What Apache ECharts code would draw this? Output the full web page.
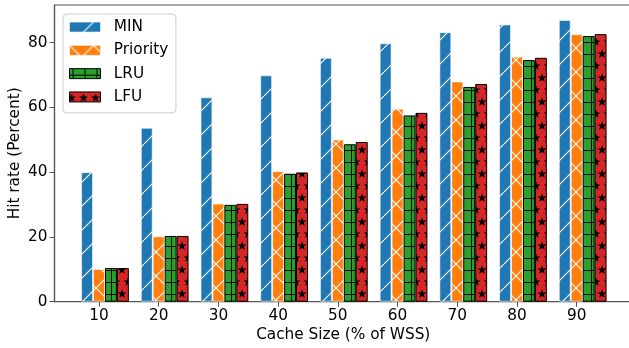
<!DOCTYPE html>
<html><head><meta charset="utf-8">
<script src="https://cdn.jsdelivr.net/npm/echarts@6/dist/echarts.min.js"></script>
<style>html,body{margin:0;padding:0;background:#fff}#c{width:629px;height:348px}</style>
</head><body><div id="c"></div>
<script>
const categories = ['10', '20', '30', '40', '50', '60', '70', '80', '90'];
const minValues = [40.0, 53.7, 63.1, 69.9, 75.3, 79.8, 83.2, 85.6, 87.0];
const priorityValues = [10.1, 20.2, 30.3, 40.3, 50.1, 59.6, 68.0, 75.7, 82.6];
const lruValues = [10.4, 20.3, 29.9, 39.5, 48.6, 57.5, 66.3, 74.6, 82.0];
const lfuValues = [10.4, 20.3, 30.2, 39.9, 49.3, 58.3, 67.2, 75.3, 82.6];
const yTicks = [0, 20, 40, 60, 80];
const seriesNames = ['MIN', 'Priority', 'LRU', 'LFU'];
const xAxisTitle = 'Cache Size (% of WSS)';
const yAxisTitle = 'Hit rate (Percent)';

const FONT = 'DejaVu Sans';
const FS = 15.3;
const SPINE = '#555555';

function tile(w, h, bg, draw) {
  const c = document.createElement('canvas');
  c.width = w; c.height = h;
  const g = c.getContext('2d');
  g.fillStyle = bg; g.fillRect(0, 0, w, h);
  draw(g);
  return c;
}
function diag(g, dir) {
  for (const o of [-24, 0, 24]) {
    g.beginPath();
    if (dir > 0) { g.moveTo(o, 24); g.lineTo(o + 24, 0); }
    else { g.moveTo(o, 0); g.lineTo(o + 24, 24); }
    g.stroke();
  }
}
function star(g, cx, cy, ro, ri) {
  g.beginPath();
  for (let k = 0; k < 10; k++) {
    const r = k % 2 ? ri : ro;
    const a = -Math.PI / 2 + k * Math.PI / 5;
    const x = cx + r * Math.cos(a), y = cy + r * Math.sin(a);
    if (k) g.lineTo(x, y); else g.moveTo(x, y);
  }
  g.closePath(); g.fill();
}
const slashTile = tile(24, 24, '#1f77b4', g => { g.strokeStyle = '#ffffff'; g.lineWidth = 1.1; diag(g, 1); });
const crossTile = tile(24, 24, '#ff7f0e', g => { g.strokeStyle = '#ffffff'; g.lineWidth = 1.1; diag(g, 1); diag(g, -1); });
const plusTile = tile(12, 12, '#2ca02c', g => {
  g.fillStyle = '#000000';
  g.fillRect(0, 6, 12, 1);
  g.fillRect(3, 0, 1, 12);
});
const starTile = tile(12, 24, '#d62728', g => {
  g.fillStyle = '#000000';
  for (const dx of [-12, 0, 12]) for (const dy of [-24, 0, 24]) {
    star(g, 2 + dx, 6 + dy, 4.6, 1.9);
    star(g, 8 + dx, 18 + dy, 4.6, 1.9);
  }
});

const fills = [slashTile, crossTile, plusTile, starTile];
const borders = ['rgba(255,255,255,0.6)', 'rgba(255,255,255,0.6)', '#000000', '#000000'];
const valueLists = [minValues, priorityValues, lruValues, lfuValues];
const idx = categories.map((c, i) => i);

const series = [{
  type: 'bar', name: '_pad', silent: true,
  data: idx.map(i => [i, 0]),
  barWidth: '20%', barGap: '0%',
  itemStyle: { color: 'rgba(0,0,0,0)', borderWidth: 0 }
}];
seriesNames.forEach((n, s) => {
  series.push({
    type: 'bar', name: n,
    data: valueLists[s].map((v, i) => [i, v]),
    barWidth: '20%', barGap: '0%',
    itemStyle: { color: { image: fills[s], repeat: 'repeat' }, borderColor: borders[s], borderWidth: 1 },
    emphasis: { disabled: true }
  });
});

const chart = echarts.init(document.getElementById('c'), null, { renderer: 'canvas' });
chart.setOption({
  animation: false,
  backgroundColor: '#ffffff',
  textStyle: { fontFamily: FONT },
  grid: { left: 54.5, right: -3, top: 5, bottom: 46.3, show: true, borderColor: SPINE, borderWidth: 1.2, containLabel: false, outerBoundsMode: 'none' },
  legend: {
    orient: 'vertical', left: 63, top: 14, data: seriesNames, icon: 'rect',
    itemWidth: 31, itemHeight: 10, itemGap: 8, padding: [5.4, 7.7, 8.3, 6],
    backgroundColor: 'rgba(255,255,255,0.8)', borderColor: '#cccccc', borderWidth: 1, borderRadius: 4,
    selectedMode: false,
    itemStyle: { borderWidth: 1 },
    textStyle: { fontSize: FS, color: '#000', fontFamily: FONT, lineHeight: FS, padding: [0, 0, 0, 8.3] }
  },
  xAxis: {
    type: 'value', min: -0.745, max: 8.926,
    axisLine: { show: true, onZero: false, lineStyle: { color: SPINE, width: 1.2 } },
    axisTick: { show: true, customValues: idx, length: 5, lineStyle: { color: SPINE, width: 1 } },
    axisLabel: { customValues: idx, formatter: v => categories[Math.round(v)], fontSize: FS, color: '#000', margin: 7, fontFamily: FONT },
    splitLine: { show: false },
    name: xAxisTitle, nameLocation: 'middle', nameGap: 25.5, nameMoveOverlap: false,
    nameTextStyle: { fontSize: FS, color: '#000', fontFamily: FONT, lineHeight: FS }
  },
  yAxis: {
    type: 'value', min: 0, max: 91.6,
    axisLine: { show: true, onZero: false, lineStyle: { color: SPINE, width: 1.2 } },
    axisTick: { show: true, customValues: yTicks, length: 5, lineStyle: { color: SPINE, width: 1 } },
    axisLabel: { customValues: yTicks, fontSize: FS, color: '#000', margin: 7, fontFamily: FONT },
    splitLine: { show: false },
    name: yAxisTitle, nameLocation: 'middle', nameGap: 31.8, nameRotate: 90, nameMoveOverlap: false,
    nameTextStyle: { fontSize: FS, color: '#000', fontFamily: FONT, lineHeight: FS }
  },
  series: series
});
</script></body></html>
